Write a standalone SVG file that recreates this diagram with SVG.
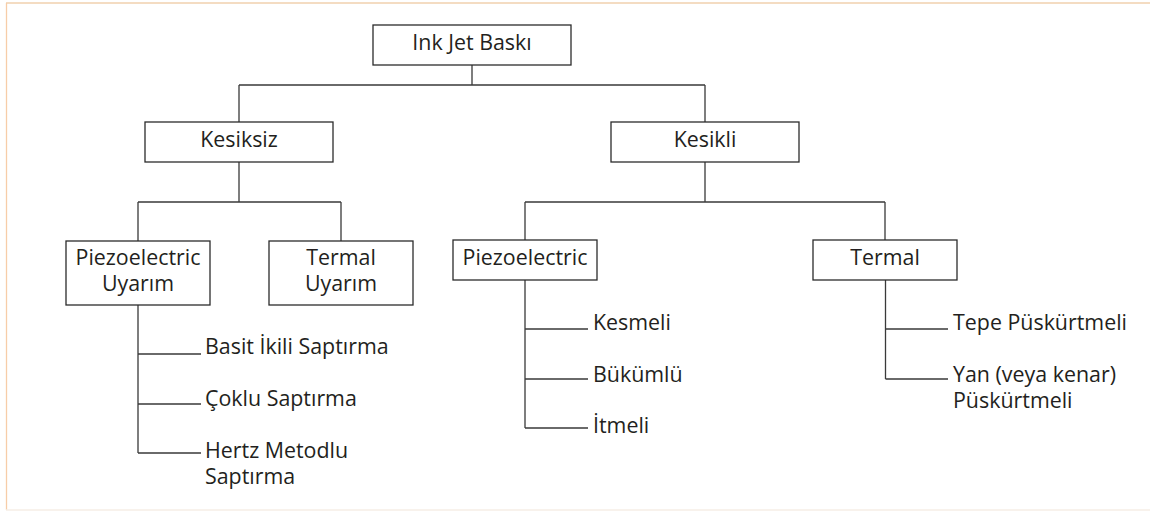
<svg xmlns="http://www.w3.org/2000/svg" width="1150" height="511" viewBox="0 0 1150 511">
  <style>
    .box { fill: #ffffff; stroke: #2b2b2b; stroke-width: 1.3; }
    .lbl { font-family: "Open Sans", "Noto Sans", "DejaVu Sans", sans-serif; font-size: 21.4px; fill: #231f20; }
    .mid { text-anchor: middle; }
    .wire { fill: none; stroke: #3a3a3a; stroke-width: 1.3; }
  </style>
  <rect x="0" y="0" width="1150" height="511" fill="#ffffff"/>
  <!-- page frame -->
  <g id="frame">
    <line x1="6" y1="3" x2="1150" y2="3" stroke="#f4dcc2" stroke-width="2"/>
    <line x1="6.5" y1="3" x2="6.5" y2="510" stroke="#f7cda8" stroke-width="1.3"/>
    <line x1="6" y1="510" x2="1150" y2="510" stroke="#f6eee6" stroke-width="1.3"/>
  </g>

  <g id="connectors">
    <!-- root to level 1 -->
    <path class="wire" d="M472 65 V85 M239 85 H705 M239 85 V122 M705 85 V122"/>
    <!-- Kesiksiz to its children -->
    <path class="wire" d="M239 162 V202 M138 202 H341 M138 202 V241 M341 202 V241"/>
    <!-- Kesikli to its children -->
    <path class="wire" d="M705 162 V202 M525 202 H885 M525 202 V240 M885 202 V240"/>
    <!-- Piezoelectric Uyarım list -->
    <path class="wire" d="M138 305 V453 M138 354 H201 M138 404 H201 M138 453 H201"/>
    <!-- Piezoelectric list -->
    <path class="wire" d="M525 280 V428 M525 329 H588 M525 379 H588 M525 428 H588"/>
    <!-- Termal list -->
    <path class="wire" d="M885.5 280 V379 M885.5 329 H948 M885.5 379 H948"/>
  </g>

  <g id="node-root">
    <rect class="box" x="373" y="25" width="198" height="40"/>
    <text class="lbl mid" x="472" y="50">Ink Jet Baskı</text>
  </g>
  <g id="node-kesiksiz">
    <rect class="box" x="145" y="122" width="188" height="40"/>
    <text class="lbl mid" x="239" y="147">Kesiksiz</text>
  </g>
  <g id="node-kesikli">
    <rect class="box" x="611" y="122" width="188" height="40"/>
    <text class="lbl mid" x="705" y="147">Kesikli</text>
  </g>
  <g id="node-piezo-uyarim">
    <rect class="box" x="66" y="241" width="144" height="64"/>
    <text class="lbl mid" x="138" y="265">Piezoelectric<tspan x="138" dy="26">Uyarım</tspan></text>
  </g>
  <g id="node-termal-uyarim">
    <rect class="box" x="269" y="241" width="144" height="64"/>
    <text class="lbl mid" x="341" y="265">Termal<tspan x="341" dy="26">Uyarım</tspan></text>
  </g>
  <g id="node-piezo">
    <rect class="box" x="453" y="240" width="144" height="40"/>
    <text class="lbl mid" x="525" y="265">Piezoelectric</text>
  </g>
  <g id="node-termal">
    <rect class="box" x="813" y="240" width="144" height="40"/>
    <text class="lbl mid" x="885" y="265">Termal</text>
  </g>

  <g id="node-basit">
    <text class="lbl" x="205" y="354">Basit İkili Saptırma</text>
  </g>
  <g id="node-coklu">
    <text class="lbl" x="205" y="406">Çoklu Saptırma</text>
  </g>
  <g id="node-hertz">
    <text class="lbl" x="205" y="458">Hertz Metodlu<tspan x="205" dy="26">Saptırma</tspan></text>
  </g>
  <g id="node-kesmeli">
    <text class="lbl" x="593" y="330">Kesmeli</text>
  </g>
  <g id="node-bukumlu">
    <text class="lbl" x="593" y="382">Bükümlü</text>
  </g>
  <g id="node-itmeli">
    <text class="lbl" x="593" y="433">İtmeli</text>
  </g>
  <g id="node-tepe">
    <text class="lbl" x="953" y="330">Tepe Püskürtmeli</text>
  </g>
  <g id="node-yan">
    <text class="lbl" x="953" y="382">Yan (veya kenar)<tspan x="953" dy="26">Püskürtmeli</tspan></text>
  </g>
</svg>
